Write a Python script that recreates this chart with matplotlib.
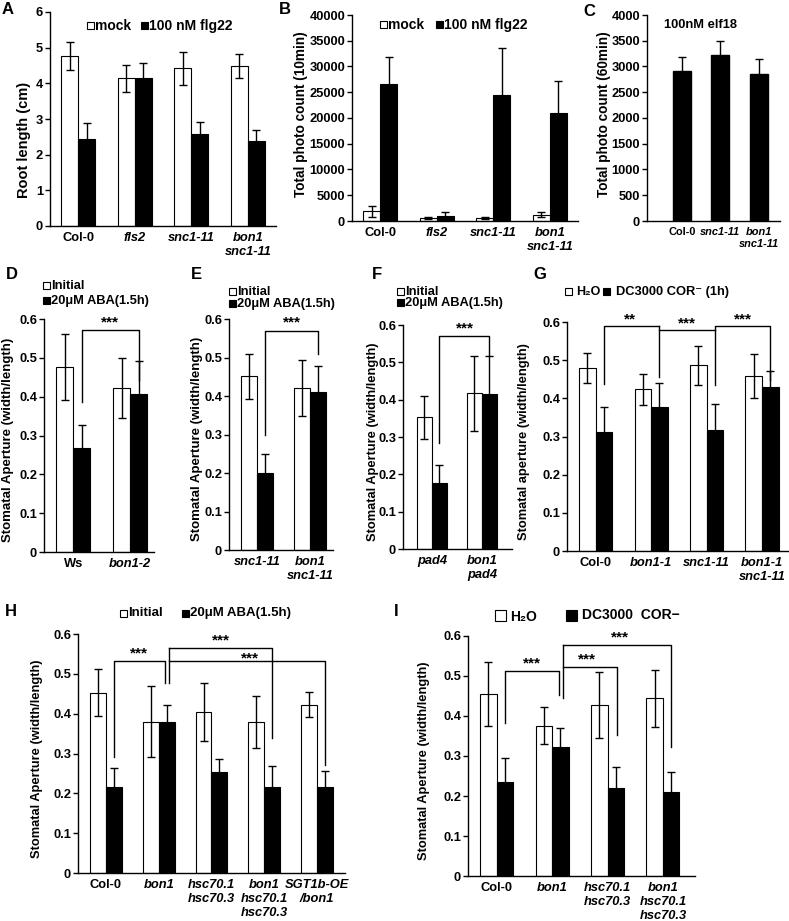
import numpy as np
import matplotlib
matplotlib.use('Agg')
import matplotlib.pyplot as plt
from matplotlib.patches import Rectangle

plt.rcParams['font.family'] = ['Liberation Sans', 'DejaVu Sans']
plt.rcParams['font.weight'] = 'bold'
plt.rcParams['font.size'] = 9.3

W, H = 789, 921

# ---- data ----
a_groups = ['Col-0', 'fls2', 'snc1-11', 'bon1\nsnc1-11']
a_mock = [4.76, 4.14, 4.42, 4.48]
a_mock_err = [0.40, 0.38, 0.47, 0.33]
a_flg = [2.44, 4.16, 2.58, 2.38]
a_flg_err = [0.46, 0.42, 0.33, 0.31]

b_groups = ['Col-0', 'fls2', 'snc1-11', 'bon1\nsnc1-11']
b_mock = [1900, 520, 500, 1200]
b_mock_err = [1100, 200, 200, 500]
b_flg = [26600, 1050, 24450, 21000]
b_flg_err = [5200, 750, 9200, 6200]

c_groups = ['Col-0', 'snc1-11', 'bon1\nsnc1-11']
c_elf = [2920, 3220, 2860]
c_elf_err = [270, 280, 290]

d_groups = ['Ws', 'bon1-2']
d_init = [0.477, 0.422]
d_init_err = [0.085, 0.077]
d_aba = [0.268, 0.407]
d_aba_err = [0.058, 0.085]

e_groups = ['snc1-11', 'bon1\nsnc1-11']
e_init = [0.451, 0.421]
e_init_err = [0.059, 0.072]
e_aba = [0.199, 0.410]
e_aba_err = [0.050, 0.068]

f_groups = ['pad4', 'bon1\npad4']
f_init = [0.353, 0.417]
f_init_err = [0.058, 0.100]
f_aba = [0.178, 0.415]
f_aba_err = [0.047, 0.102]

g_groups = ['Col-0', 'bon1-1', 'snc1-11', 'bon1-1\nsnc1-11']
g_h2o = [0.480, 0.424, 0.487, 0.458]
g_h2o_err = [0.040, 0.041, 0.051, 0.057]
g_cor = [0.313, 0.376, 0.318, 0.429]
g_cor_err = [0.063, 0.063, 0.067, 0.043]

h_groups = ['Col-0', 'bon1', 'hsc70.1\nhsc70.3', 'bon1\nhsc70.1\nhsc70.3', 'SGT1b-OE\n/bon1']
h_init = [0.453, 0.380, 0.405, 0.379, 0.423]
h_init_err = [0.058, 0.089, 0.073, 0.065, 0.031]
h_aba = [0.217, 0.378, 0.254, 0.217, 0.215]
h_aba_err = [0.046, 0.045, 0.032, 0.051, 0.040]

i_groups = ['Col-0', 'bon1', 'hsc70.1\nhsc70.3', 'bon1\nhsc70.1\nhsc70.3']
i_h2o = [0.455, 0.376, 0.427, 0.444]
i_h2o_err = [0.079, 0.046, 0.083, 0.071]
i_cor = [0.236, 0.323, 0.220, 0.210]
i_cor_err = [0.058, 0.048, 0.052, 0.051]

ape_ticks = [0, 0.1, 0.2, 0.3, 0.4, 0.5, 0.6]
ape_labels = ['0', '0.1', '0.2', '0.3', '0.4', '0.5', '0.6']

fig = plt.figure(figsize=(W / 100, H / 100), dpi=100)

BW = 0.3
EKW = dict(ecolor='black', elinewidth=1.0, capsize=2.6, capthick=1.0)


def px_ax(l, t, r, b):
    return fig.add_axes([l / W, 1 - b / H, (r - l) / W, (b - t) / H])


def style(ax, groups, xlim, ylim, yticks, ylabels, ylab, ylab_x, ylab_y=0.5,
          ylab_size=9.5, xsize=9.3):
    for s in ['top', 'right']:
        ax.spines[s].set_visible(False)
    for s in ['left', 'bottom']:
        ax.spines[s].set_linewidth(1.0)
    ax.set_xlim(*xlim)
    ax.set_ylim(*ylim)
    ax.set_yticks(yticks)
    ax.set_yticklabels(ylabels)
    ax.set_xticks(np.arange(len(groups)))
    ax.set_xticklabels(groups, linespacing=1.25)
    ax.tick_params(axis='y', direction='out', length=3.5, width=1, pad=1.5, labelsize=9.3)
    ax.tick_params(axis='x', length=0, pad=4, labelsize=xsize)
    for lab, g in zip(ax.get_xticklabels(), groups):
        if g not in ('Col-0', 'Ws'):
            lab.set_fontstyle('italic')
    ax.set_ylabel(ylab, fontsize=ylab_size, fontweight='bold')
    ax.yaxis.set_label_coords(ylab_x, ylab_y)


def pair(ax, v1, e1, v2, e2):
    x = np.arange(len(v1))
    ax.bar(x - BW / 2, v1, BW, color='white', edgecolor='black', linewidth=0.8,
           yerr=e1, error_kw=EKW, zorder=2)
    ax.bar(x + BW / 2, v2, BW, color='black', edgecolor='black', linewidth=0.8,
           yerr=e2, error_kw=EKW, zorder=2)


def bracket(ax, x1, x2, top, y1, y2):
    ax.plot([x1, x1, x2, x2], [y1, top, top, y2], color='black', lw=1.0,
            clip_on=False, zorder=3)


def stars(ax, x, y, s='***', va='bottom'):
    ax.text(x, y, s, ha='center', va=va, fontsize=11, fontweight='bold')


def key(x, y, filled, size=7):
    fig.add_artist(Rectangle(((x) / W, 1 - (y + size / 2) / H), size / W, size / H,
                             transform=fig.transFigure, facecolor='black' if filled else 'white',
                             edgecolor='black', linewidth=0.8))


def ftext(x, y, s, **kw):
    kw.setdefault('fontsize', 9.3)
    kw.setdefault('va', 'center')
    kw.setdefault('fontweight', 'bold')
    fig.text(x / W, 1 - y / H, s, **kw)


def panel(x, y, s):
    fig.text(x / W, 1 - y / H, s, fontsize=12, fontweight='bold', va='top', ha='left')


# ---- A ----
ax = px_ax(50, 12, 276, 226)
pair(ax, a_mock, a_mock_err, a_flg, a_flg_err)
style(ax, a_groups, (-0.5, 3.5), (0, 6), range(7), [str(v) for v in range(7)],
      'Root length (cm)', -0.084, 0.40, 10.5)
panel(2, 2, 'A')
key(87, 26, False)
ftext(95, 26, 'mock', fontsize=10)
key(141, 26, True)
ftext(149, 26, '100 nM flg22', fontsize=10)

# ---- B ----
ax = px_ax(352, 15, 578, 221)
pair(ax, b_mock, b_mock_err, b_flg, b_flg_err)
bt = list(range(0, 40001, 5000))
style(ax, b_groups, (-0.5, 3.5), (0, 40000), bt, [str(v) for v in bt],
      'Total photo count (10min)', -0.195, 0.52, 9.8)
panel(279, 2, 'B')
key(380, 25, False)
ftext(388, 25, 'mock', fontsize=10)
key(436, 25, True)
ftext(444, 25, '100 nM flg22', fontsize=10)

# ---- C ----
ax = px_ax(647, 15, 780, 221)
xc = np.arange(len(c_elf))
ax.bar(xc, c_elf, 0.47, color='black', edgecolor='black', yerr=c_elf_err,
       error_kw=EKW, zorder=2)
ct = list(range(0, 4001, 500))
style(ax, c_groups, (-0.91, 2.55), (0, 4000), ct, [str(v) for v in ct],
      'Total photo count (60min)', -0.27, 0.52, 9.8, xsize=7.9)
panel(583, 4, 'C')
ftext(700, 25, '100nM elf18', fontsize=9.3, ha='center')

# ---- D ----
ax = px_ax(44, 319, 154, 552)
pair(ax, d_init, d_init_err, d_aba, d_aba_err)
style(ax, d_groups, (-0.52, 1.42), (0, 0.6), ape_ticks, ape_labels,
      'Stomatal Aperture (width/length)', -0.273, 0.48, 9.5)
bracket(ax, 0.15, 1.15, 0.572, 0.387, 0.443)
stars(ax, 0.65, 0.574)
panel(6, 267, 'D')
key(43, 286, False)
ftext(51, 286, 'Initial')
key(43, 301, True)
ftext(51, 301, '20μM ABA(1.5h)')

# ---- E ----
ax = px_ax(229, 319, 333, 550)
pair(ax, e_init, e_init_err, e_aba, e_aba_err)
style(ax, e_groups, (-0.53, 1.43), (0, 0.6), ape_ticks, ape_labels,
      'Stomatal Aperture (width/length)', -0.25, 0.48, 9.5)
bracket(ax, 0.15, 1.15, 0.570, 0.30, 0.51)
stars(ax, 0.65, 0.572)
panel(191, 267, 'E')
key(229, 292, False)
ftext(237, 292, 'Initial')
key(229, 304, True)
ftext(237, 304, '20μM ABA(1.5h)')

# ---- F ----
ax = px_ax(403, 325, 512, 549)
pair(ax, f_init, f_init_err, f_aba, f_aba_err)
style(ax, f_groups, (-0.58, 1.6), (0, 0.6), ape_ticks, ape_labels,
      'Stomatal Aperture (width/length)', -0.22, 0.48, 9.3)
bracket(ax, 0.15, 1.15, 0.570, 0.285, 0.52)
stars(ax, 0.65, 0.572)
panel(372, 267, 'F')
key(397, 292, False)
ftext(405, 292, 'Initial')
key(397, 303, True)
ftext(405, 303, '20μM ABA(1.5h)')

# ---- G ----
ax = px_ax(567, 322, 788, 551)
pair(ax, g_h2o, g_h2o_err, g_cor, g_cor_err)
style(ax, g_groups, (-0.52, 3.47), (0, 0.6), ape_ticks, ape_labels,
      'Stomatal aperture (width/length)', -0.167, 0.48, 9.3)
ax.plot([0.15, 0.15, 1.15], [0.438, 0.589, 0.589], color='black', lw=1.0, clip_on=False)
ax.plot([1.15, 1.15], [0.456, 0.589], color='black', lw=1.0, clip_on=False)
ax.plot([1.15, 2.15], [0.578, 0.578], color='black', lw=1.0, clip_on=False)
ax.plot([2.15, 2.15, 3.15, 3.15], [0.434, 0.589, 0.589, 0.447], color='black', lw=1.0, clip_on=False)
stars(ax, 0.62, 0.589, '**')
stars(ax, 1.65, 0.578)
stars(ax, 2.65, 0.589)
panel(533, 267, 'G')
key(565, 292, False)
ftext(576, 292, 'H₂O', fontsize=9)
key(603, 292, True)
ftext(616, 292, 'DC3000 COR⁻ (1h)')

# ---- H ----
ax = px_ax(78, 634, 345, 873)
pair(ax, h_init, h_init_err, h_aba, h_aba_err)
style(ax, h_groups, (-0.53, 4.53), (0, 0.6), ape_ticks, ape_labels,
      'Stomatal Aperture (width/length)', -0.131, 0.48, 9.3)
bracket(ax, 0.15, 1.11, 0.531, 0.292, 0.478)
ax.plot([1.19, 1.19], [0.478, 0.564], color='black', lw=1.0, clip_on=False)
ax.plot([1.19, 3.15, 3.15], [0.564, 0.564, 0.338], color='black', lw=1.0, clip_on=False)
ax.plot([1.19, 4.15, 4.15], [0.533, 0.533, 0.271], color='black', lw=1.0, clip_on=False)
stars(ax, 0.62, 0.533)
stars(ax, 2.17, 0.566)
stars(ax, 2.72, 0.520)
panel(5, 604, 'H')
key(120, 613, False)
ftext(128, 613, 'Initial', fontsize=9.5)
key(182, 613, True)
ftext(190, 613, '20μM ABA(1.5h)', fontsize=9.5)

# ---- I ----
ax = px_ax(468, 636, 695, 876)
pair(ax, i_h2o, i_h2o_err, i_cor, i_cor_err)
style(ax, i_groups, (-0.52, 3.58), (0, 0.6), ape_ticks, ape_labels,
      'Stomatal Aperture (width/length)', -0.167, 0.48, 9.3)
bracket(ax, 0.14, 1.12, 0.513, 0.383, 0.452)
ax.plot([1.19, 1.19], [0.446, 0.578], color='black', lw=1.0, clip_on=False)
ax.plot([1.19, 3.15, 3.15], [0.578, 0.578, 0.323], color='black', lw=1.0, clip_on=False)
ax.plot([1.19, 2.17, 2.17], [0.522, 0.522, 0.352], color='black', lw=1.0, clip_on=False)
stars(ax, 0.63, 0.514)
stars(ax, 1.62, 0.523)
stars(ax, 2.22, 0.578)
panel(394, 604, 'I')
key(495, 615, False, size=11)
ftext(510, 617, 'H₂O', fontsize=10)
key(566, 615, True, size=11)
ftext(582, 615, 'DC3000  COR−', fontsize=10)

fig.savefig('out.png', dpi=100)
